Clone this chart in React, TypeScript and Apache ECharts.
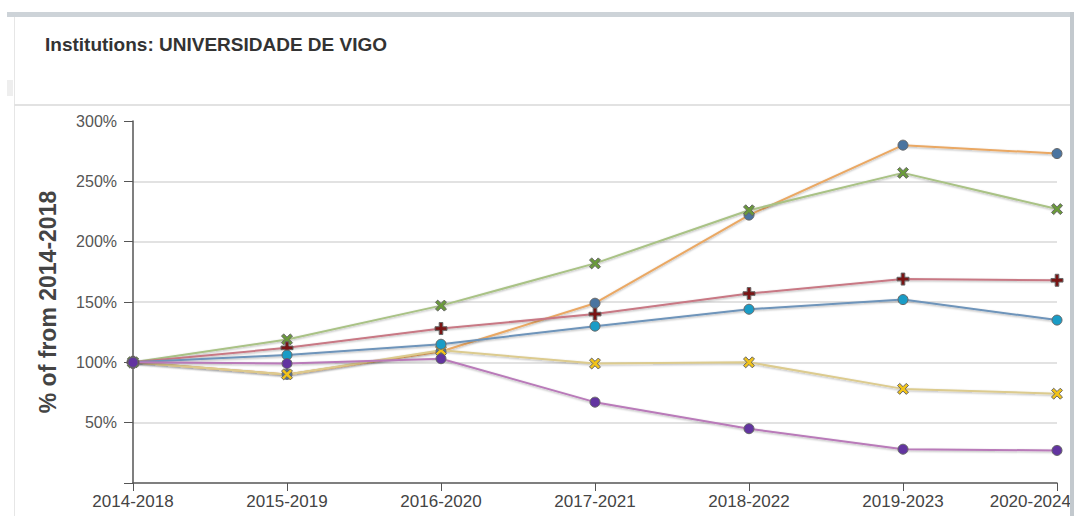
import React, { useEffect, useRef } from "react";
import * as echarts from "echarts";

const categories = ["2014-2018", "2015-2019", "2016-2020", "2017-2021", "2018-2022", "2019-2023", "2020-2024"];
const orangeSeries = [100, 90, 109, 149, 222, 280, 273];
const yellowSeries = [100, 90, 110, 99, 100, 78, 74];
const greenSeries = [100, 119, 147, 182, 226, 257, 227];
const redSeries = [100, 112, 128, 140, 157, 169, 168];
const blueSeries = [100, 106, 115, 130, 144, 152, 135];
const purpleSeries = [100, 99, 103, 67, 45, 28, 27];
const yTicks = [0, 50, 100, 150, 200, 250, 300];

const X_PATH = "path://M0,2 L2,0 L5,3 L8,0 L10,2 L7,5 L10,8 L8,10 L5,7 L2,10 L0,8 L3,5 Z";
const PLUS_PATH = "path://M3.5,0 H6.5 V3.5 H10 V6.5 H6.5 V10 H3.5 V6.5 H0 V3.5 H3.5 Z";

function mk(name: string, data: number[], lineColor: string, markColor: string, symbol: string, size: number) {
  return {
    name,
    type: "line",
    data,
    symbol,
    symbolSize: size,
    showAllSymbol: true,
    lineStyle: {
      color: lineColor,
      width: 2,
      shadowColor: "rgba(0,0,0,0.3)",
      shadowBlur: 2,
      shadowOffsetY: 1,
    },
    itemStyle: { color: markColor, borderColor: "#666", borderWidth: 1 },
  };
}

export default function App() {
  const ref = useRef<HTMLDivElement>(null);
  useEffect(() => {
    if (!ref.current) return;
    document.documentElement.style.overflow = "hidden";
    document.body.style.margin = "0";
    document.body.style.overflow = "hidden";
    const chart = echarts.init(ref.current, undefined, { renderer: "svg" });
    const last = categories.length - 1;
    chart.setOption({
      animation: false,
      backgroundColor: "#fff",
      textStyle: { fontFamily: "Liberation Sans, Arial, sans-serif" },
      grid: { left: 133, right: 17, top: 121, bottom: 33, containLabel: false, outerBoundsMode: "none" },
      xAxis: {
        type: "category",
        data: categories,
        boundaryGap: false,
        axisLine: { lineStyle: { color: "#555", width: 1.5 } },
        axisTick: { show: true, length: 8, lineStyle: { color: "#555" }, alignWithLabel: true },
        axisLabel: {
          color: "#444",
          fontSize: 17,
          margin: 10,
          interval: 0,
          alignMaxLabel: "right",
          formatter: (v: string, i: number) => (i === last ? `{r|${v}}` : v),
          rich: { r: { padding: [0, -14, 0, 0], fontSize: 17, color: "#444" } },
        },
      },
      yAxis: {
        type: "value",
        min: yTicks[0],
        max: yTicks[yTicks.length - 1],
        interval: 50,
        name: "% of from 2014-2018",
        nameLocation: "middle",
        nameGap: 74,
        nameTextStyle: { fontSize: 23, fontWeight: "bold", color: "#444" },
        axisLine: { show: true, lineStyle: { color: "#555", width: 1.5 } },
        axisTick: { show: true, length: 9, lineStyle: { color: "#555" } },
        axisLabel: {
          color: "#555",
          fontSize: 16,
          margin: 16,
          formatter: (v: number) => (v === 0 ? "" : v + "%"),
        },
        splitLine: {
          show: true,
          lineStyle: { color: ["transparent", "#d8d8d8", "#d8d8d8", "#d8d8d8", "#d8d8d8", "#d8d8d8", "transparent"], width: 1.5 },
        },
      },
      series: [
        mk("orange", orangeSeries, "#eaa864", "#4a74a0", "circle", 10),
        mk("yellow", yellowSeries, "#dccb8e", "#f2c318", X_PATH, 11),
        mk("green", greenSeries, "#a9c285", "#6a9a3a", X_PATH, 11),
        mk("red", redSeries, "#c87884", "#7a1414", PLUS_PATH, 12),
        mk("blue", blueSeries, "#6e94ba", "#1a9cc6", "circle", 10),
        mk("purple", purpleSeries, "#b97ab9", "#6234a0", "circle", 10),
      ],
      graphic: [
        { type: "rect", z: 100, shape: { x: 7, y: 12, width: 1067, height: 5 }, style: { fill: "#cdd3d8" } },
        { type: "rect", z: 100, shape: { x: 1070, y: 12, width: 4, height: 504 }, style: { fill: "#c3c9ce" } },
        { type: "rect", shape: { x: 14, y: 17, width: 1, height: 499 }, style: { fill: "#e6e6e6" } },
        { type: "rect", shape: { x: 7, y: 80, width: 6, height: 16 }, style: { fill: "#eeeeee" } },
        { type: "rect", shape: { x: 14, y: 104, width: 1056, height: 2 }, style: { fill: "#e2e2e2" } },
        {
          type: "text",
          left: 45,
          top: 35,
          style: {
            text: "Institutions: UNIVERSIDADE DE VIGO",
            font: "bold 19px 'Liberation Sans', Arial, sans-serif",
            fill: "#333",
          },
        },
      ],
    });
    return () => chart.dispose();
  }, []);
  return <div ref={ref} style={{ position: "fixed", left: 0, top: 0, width: 1074, height: 516 }} />;
}
